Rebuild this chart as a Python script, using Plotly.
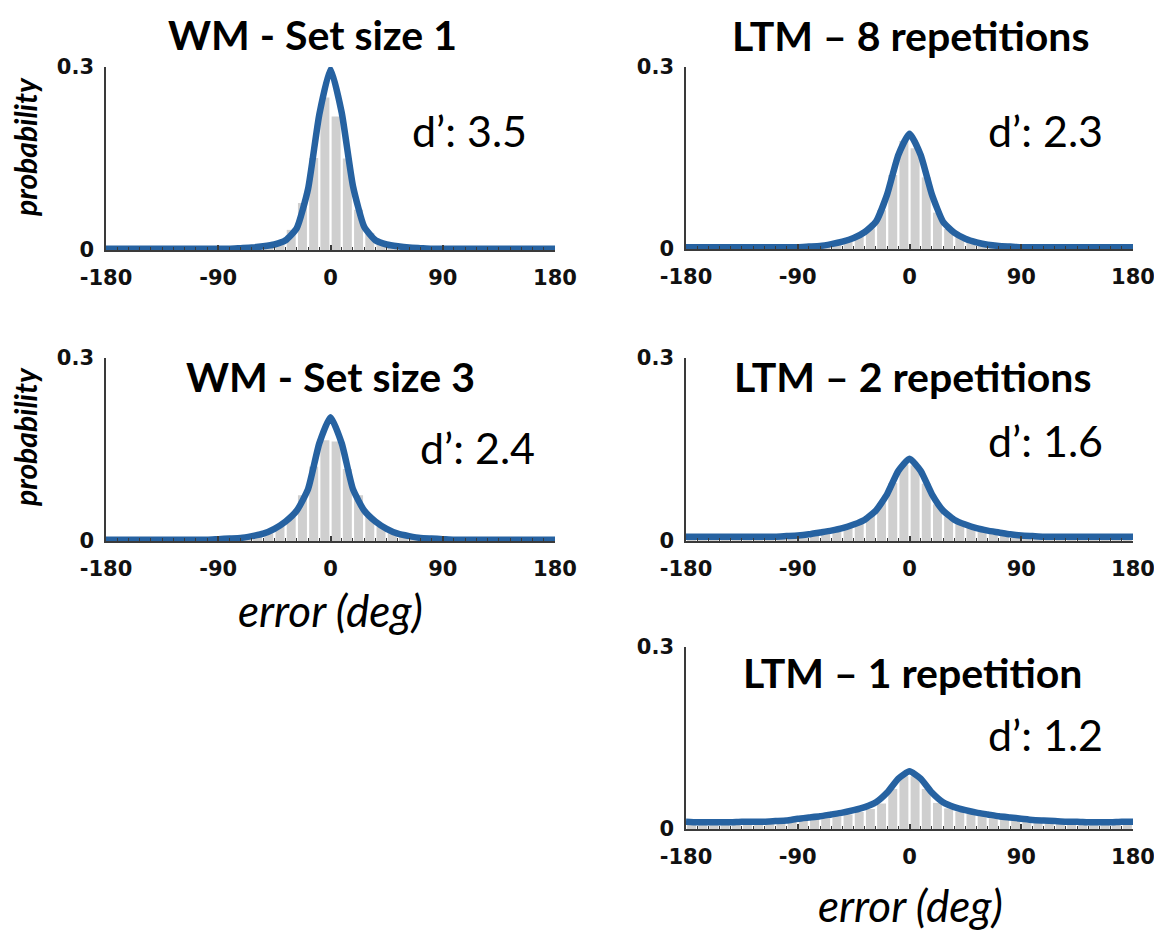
import plotly.graph_objects as go

PAGE_W, PAGE_H = 1162, 934
OFF = 8  # default body margin of the page
W, H = PAGE_W - OFF, PAGE_H - OFF

# ---------------- data ----------------
bin_centers = [-175.5 + 9 * k for k in range(40)]
line_x = [-180 + 9 * k for k in range(41)]
x_tickvals = [-180, -90, 0, 90, 180]
x_ticktext = ["-180", "-90", "0", "90", "180"]
y_tickvals = [0, 0.3]
y_ticktext = ["0", "0.3"]

titles = ["WM - Set size 1", "LTM \u2013 8 repetitions", "WM - Set size 3",
          "LTM \u2013 2 repetitions", "LTM \u2013 1 repetition"]
dprime = ["d\u2019: 3.5", "d\u2019: 2.3", "d\u2019: 2.4", "d\u2019: 1.6", "d\u2019: 1.2"]

bars_wm1 = [0.001, 0.001, 0.001, 0.001, 0.001, 0.001, 0.001, 0.002, 0.001, 0.002,
            0.002, 0.002, 0.003, 0.004, 0.007, 0.014, 0.033, 0.077, 0.151, 0.250,
            0.219, 0.150, 0.066, 0.028, 0.013, 0.007, 0.004, 0.003, 0.002, 0.002,
            0.001, 0.002, 0.001, 0.001, 0.001, 0.001, 0.001, 0.001, 0.001, 0.001]
bars_ltm8 = [0.003, 0.003, 0.003, 0.003, 0.003, 0.003, 0.003, 0.003, 0.003, 0.003,
             0.004, 0.005, 0.006, 0.009, 0.014, 0.021, 0.034, 0.064, 0.122, 0.178,
             0.166, 0.118, 0.060, 0.033, 0.020, 0.013, 0.009, 0.006, 0.004, 0.004,
             0.003, 0.003, 0.003, 0.003, 0.003, 0.003, 0.003, 0.003, 0.003, 0.003]
bars_wm3 = [0.002, 0.002, 0.002, 0.002, 0.002, 0.002, 0.002, 0.002, 0.002, 0.003,
            0.003, 0.004, 0.006, 0.009, 0.015, 0.025, 0.040, 0.075, 0.122, 0.165,
            0.163, 0.118, 0.075, 0.040, 0.024, 0.014, 0.009, 0.006, 0.004, 0.003,
            0.003, 0.002, 0.002, 0.002, 0.002, 0.002, 0.002, 0.002, 0.002, 0.002]
bars_ltm2 = [0.007, 0.007, 0.007, 0.007, 0.007, 0.007, 0.007, 0.007, 0.007, 0.008,
             0.010, 0.012, 0.015, 0.019, 0.023, 0.030, 0.041, 0.062, 0.095, 0.125,
             0.124, 0.094, 0.060, 0.040, 0.029, 0.022, 0.018, 0.015, 0.012, 0.010,
             0.008, 0.007, 0.007, 0.007, 0.007, 0.007, 0.007, 0.007, 0.007, 0.007]
bars_ltm1 = [0.011, 0.011, 0.011, 0.011, 0.011, 0.011, 0.011, 0.011, 0.012, 0.013,
             0.015, 0.017, 0.019, 0.021, 0.024, 0.028, 0.033, 0.042, 0.066, 0.087,
             0.087, 0.066, 0.043, 0.034, 0.029, 0.025, 0.022, 0.020, 0.018, 0.016,
             0.015, 0.013, 0.012, 0.011, 0.011, 0.011, 0.011, 0.011, 0.011, 0.011]

line_wm1 = [0.002, 0.002, 0.002, 0.002, 0.002, 0.002, 0.002, 0.002, 0.002, 0.002,
            0.002, 0.002, 0.003, 0.004, 0.006, 0.009, 0.016, 0.036, 0.100, 0.222,
            0.297,
            0.225, 0.105, 0.038, 0.016, 0.009, 0.006, 0.004, 0.003, 0.002, 0.002,
            0.002, 0.002, 0.002, 0.002, 0.002, 0.002, 0.002, 0.002, 0.002, 0.002]
line_ltm8 = [0.003, 0.003, 0.003, 0.003, 0.003, 0.003, 0.003, 0.003, 0.003, 0.003,
             0.003, 0.004, 0.005, 0.008, 0.012, 0.018, 0.028, 0.045, 0.090, 0.155,
             0.190,
             0.155, 0.090, 0.045, 0.027, 0.017, 0.011, 0.007, 0.005, 0.004, 0.003,
             0.003, 0.003, 0.003, 0.003, 0.003, 0.003, 0.003, 0.003, 0.003, 0.003]
line_wm3 = [0.002, 0.002, 0.002, 0.002, 0.002, 0.002, 0.002, 0.002, 0.002, 0.002,
            0.003, 0.004, 0.005, 0.008, 0.012, 0.020, 0.032, 0.050, 0.085, 0.160,
            0.203,
            0.160, 0.085, 0.050, 0.032, 0.020, 0.012, 0.008, 0.005, 0.004, 0.003,
            0.002, 0.002, 0.002, 0.002, 0.002, 0.002, 0.002, 0.002, 0.002, 0.002]
line_ltm2 = [0.007, 0.007, 0.007, 0.007, 0.007, 0.007, 0.007, 0.007, 0.007, 0.008,
             0.009, 0.011, 0.014, 0.017, 0.021, 0.027, 0.035, 0.050, 0.077, 0.115,
             0.135,
             0.115, 0.077, 0.050, 0.035, 0.027, 0.021, 0.017, 0.014, 0.011, 0.009,
             0.008, 0.007, 0.007, 0.007, 0.007, 0.007, 0.007, 0.007, 0.007, 0.007]
line_ltm1 = [0.012, 0.011, 0.011, 0.011, 0.011, 0.012, 0.012, 0.012, 0.013, 0.014,
             0.017, 0.019, 0.021, 0.024, 0.027, 0.031, 0.036, 0.044, 0.060, 0.083,
             0.095,
             0.083, 0.060, 0.044, 0.036, 0.031, 0.027, 0.024, 0.021, 0.019, 0.017,
             0.015, 0.014, 0.013, 0.012, 0.012, 0.011, 0.011, 0.011, 0.012, 0.012]

bars_all = [bars_wm1, bars_ltm8, bars_wm3, bars_ltm2, bars_ltm1]
lines_all = [line_wm1, line_ltm8, line_wm3, line_ltm2, line_ltm1]

# ---------------- layout geometry (page pixels) ----------------
panels = [  # left, right, top, bottom
    (106, 555, 67, 250),
    (686, 1133, 67, 249),
    (106, 555, 358, 541),
    (686, 1133, 358, 541),
    (686, 1133, 647, 829),
]
title_pos = [(312, 34), (910, 35), (330, 376), (912, 377), (912, 672)]
dprime_pos = [(469, 130), (1045, 130), (477, 447), (1045, 441), (1045, 734)]

BLUE = "#2662a1"
GRAY = "#cfcfcf"
AX = "#3a3a3a"


def px(x):
    return (x - OFF) / W


def py(y):
    return 1 - (y - OFF) / H


fig = go.Figure()
layout = dict(
    width=W, height=H, margin=dict(l=0, r=0, t=0, b=0, autoexpand=False),
    paper_bgcolor="white", plot_bgcolor="white", showlegend=False,
    bargap=0.2, annotations=[],
)

TICKFONT = dict(family="DejaVu Sans", size=21, color="#111")

for i, (l, r, t, b) in enumerate(panels):
    n = "" if i == 0 else str(i + 1)
    xa, ya = "x" + n, "y" + n
    fig.add_trace(go.Bar(x=bin_centers, y=bars_all[i], marker_color=GRAY,
                         marker_line_width=0, xaxis=xa, yaxis=ya))
    fig.add_trace(go.Scatter(x=line_x, y=lines_all[i], mode="lines",
                             line=dict(color=BLUE, width=6.5, shape="spline", smoothing=0.5),
                             xaxis=xa, yaxis=ya))
    layout["xaxis" + n] = dict(
        domain=[px(l), px(r)], anchor=ya, range=[-180, 180], automargin=False,
        showgrid=False, zeroline=False, showline=True, linecolor=AX, linewidth=1.5,
        tickmode="array", tickvals=x_tickvals,
        ticktext=["<b>" + s + "</b>" for s in x_ticktext],
        ticks="inside", ticklen=5, tickcolor=AX, tickwidth=1.5,
        ticklabelstandoff=8,
        minor=dict(dtick=9, tick0=0, ticks="inside", ticklen=3, tickcolor=AX, tickwidth=1),
        tickfont=TICKFONT, fixedrange=True,
    )
    layout["yaxis" + n] = dict(
        domain=[py(b), py(t)], anchor=xa, range=[0, 0.3], automargin=False,
        showgrid=False, zeroline=False, showline=True, linecolor=AX, linewidth=1.5,
        tickmode="array", tickvals=y_tickvals,
        ticktext=["<b>" + s + "</b>" for s in y_ticktext],
        ticks="inside", ticklen=5, tickcolor=AX, tickwidth=1.5,
        ticklabelstandoff=6,
        tickfont=TICKFONT, fixedrange=True,
    )
    tx, ty = title_pos[i]
    layout["annotations"].append(dict(
        x=px(tx), y=py(ty), xref="paper", yref="paper", showarrow=False,
        text="<b>" + titles[i] + "</b>", xanchor="center", yanchor="middle",
        font=dict(family="Lato", size=41, color="#000")))
    dx, dy = dprime_pos[i]
    layout["annotations"].append(dict(
        x=px(dx), y=py(dy), xref="paper", yref="paper", showarrow=False,
        text=dprime[i], xanchor="center", yanchor="middle",
        font=dict(family="Lato", size=43, color="#000")))

for (x, y) in [(25, 147), (25, 437)]:
    layout["annotations"].append(dict(
        x=px(x), y=py(y), xref="paper", yref="paper", showarrow=False,
        text="<b><i>probability</i></b>", textangle=-90,
        xanchor="center", yanchor="middle",
        font=dict(family="Lato", size=30, color="#000")))
for (x, y) in [(330, 610), (910, 905)]:
    layout["annotations"].append(dict(
        x=px(x), y=py(y), xref="paper", yref="paper", showarrow=False,
        text="<i>error (deg)</i>", xanchor="center", yanchor="middle",
        font=dict(family="Lato", size=44, color="#000")))

fig.update_layout(**layout)
fig.write_html("out.html")
